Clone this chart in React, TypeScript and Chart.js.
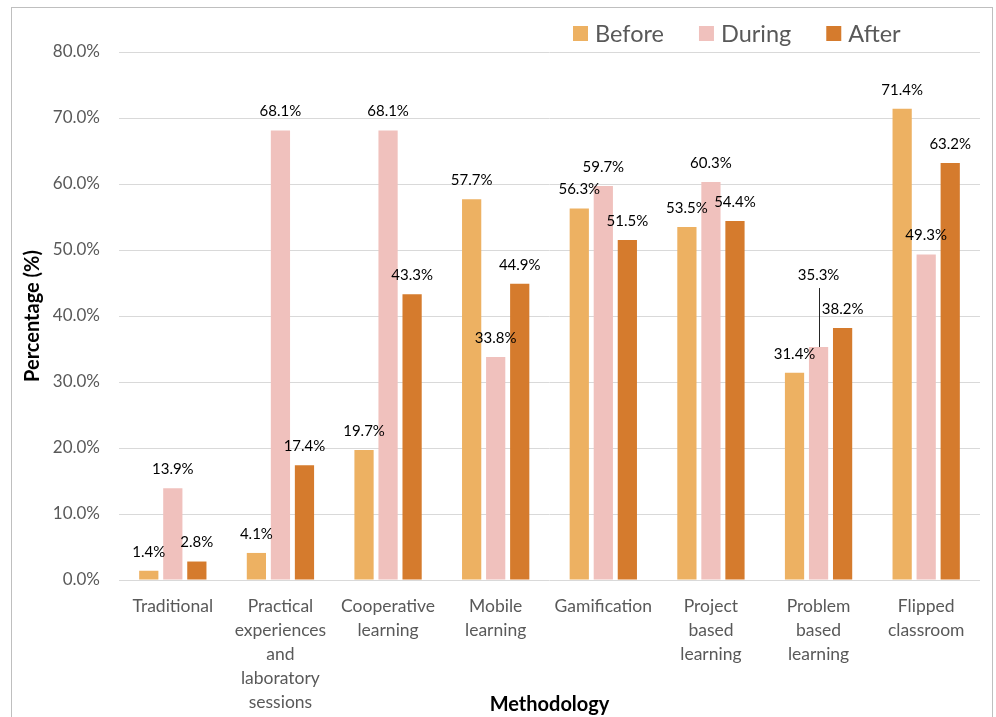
import React, { useEffect, useRef } from "react";
import { Chart, registerables } from "chart.js";

Chart.register(...registerables);

const categories: string[][] = [
  ["Traditional"],
  ["Practical", "experiences", "and", "laboratory", "sessions"],
  ["Cooperative", "learning"],
  ["Mobile", "learning"],
  ["Gamification"],
  ["Project", "based", "learning"],
  ["Problem", "based", "learning"],
  ["Flipped", "classroom"],
];

const seriesNames = ["Before", "During", "After"];
const beforeValues = [1.4, 4.1, 19.7, 57.7, 56.3, 53.5, 31.4, 71.4];
const duringValues = [13.9, 68.1, 68.1, 33.8, 59.7, 60.3, 35.3, 49.3];
const afterValues = [2.8, 17.4, 43.3, 44.9, 51.5, 54.4, 38.2, 63.2];
const seriesColors = ["#EDB162", "#F0C1BD", "#D57B2D"];

const yTickMax = 80;
const yTickStep = 10;

const FONT = "Lato, 'Open Sans', sans-serif";

const dataLabelPlugin = {
  id: "dataLabels",
  afterDatasetsDraw(chart: any) {
    const ctx = chart.ctx;
    ctx.save();
    ctx.font = `15px ${FONT}`;
    ctx.fillStyle = "#000000";
    ctx.textAlign = "center";
    ctx.textBaseline = "middle";
    chart.data.datasets.forEach((ds: any, di: number) => {
      const meta = chart.getDatasetMeta(di);
      meta.data.forEach((bar: any, i: number) => {
        const v = ds.data[i];
        const text = v.toFixed(1) + "%";
        // The "During" label of Problem based learning was moved up with a leader line
        const lifted = di === 1 && i === 6;
        const ly = bar.y - 19 - (lifted ? 53 : 0);
        ctx.fillText(text, bar.x, ly);
        if (lifted) {
          ctx.strokeStyle = "#262626";
          ctx.lineWidth = 1;
          ctx.beginPath();
          ctx.moveTo(Math.round(bar.x) + 0.5, ly + 13);
          ctx.lineTo(Math.round(bar.x) + 0.5, bar.y);
          ctx.stroke();
        }
      });
    });
    ctx.restore();
  },
};

const legendPlugin = {
  id: "customLegend",
  afterDraw(chart: any) {
    const ctx = chart.ctx;
    const area = chart.chartArea;
    ctx.save();
    ctx.font = `23.5px ${FONT}`;
    ctx.textBaseline = "middle";
    ctx.textAlign = "left";
    let x = area.left + 454;
    const yc = 33;
    chart.data.datasets.forEach((ds: any) => {
      ctx.fillStyle = ds.backgroundColor;
      ctx.fillRect(x, yc - 7, 15, 15);
      x += 22;
      ctx.fillStyle = "#595959";
      ctx.fillText(ds.label, x, yc + 1);
      x += ctx.measureText(ds.label).width + 35;
    });
    ctx.restore();
  },
};

export default function App() {
  const canvasRef = useRef<HTMLCanvasElement | null>(null);

  useEffect(() => {
    if (!canvasRef.current) return;
    const values = [beforeValues, duringValues, afterValues];
    const chart = new Chart(canvasRef.current, {
      type: "bar",
      data: {
        labels: categories,
        datasets: seriesNames.map((name, k) => ({
          label: name,
          data: values[k],
          backgroundColor: seriesColors[k],
          categoryPercentage: 0.67,
          barPercentage: 0.8,
        })),
      },
      options: {
        responsive: false,
        animation: false,
        layout: { padding: { left: 17, right: 16, top: 52, bottom: 0 } },
        plugins: {
          legend: { display: false },
          tooltip: { enabled: false },
        },
        scales: {
          x: {
            grid: { display: false, drawTicks: false },
            border: { display: false },
            ticks: {
              color: "#595959",
              font: { family: FONT, size: 17.5, lineHeight: 24 / 17.5 },
              padding: 14,
              maxRotation: 0,
              autoSkip: false,
            },
            title: {
              display: true,
              text: "Methodology",
              color: "#000000",
              font: { family: FONT, size: 20, weight: "bold", lineHeight: 1.2 },
              padding: { top: 0, bottom: 0 },
            },
            afterFit: (s: any) => {
              s.height = 137;
            },
          },
          y: {
            min: 0,
            max: yTickMax,
            grid: { color: "#D9D9D9", drawTicks: false, lineWidth: 1 },
            border: { display: false },
            ticks: {
              stepSize: yTickStep,
              color: "#595959",
              font: { family: FONT, size: 17 },
              padding: 19,
              callback: (v: any) => Number(v).toFixed(1) + "%",
            },
            title: {
              display: true,
              text: "Percentage (%)",
              color: "#000000",
              font: { family: FONT, size: 20, weight: "bold", lineHeight: 1.2 },
              padding: { top: 4, bottom: 4 },
            },
            afterFit: (s: any) => {
              s.width = 102;
            },
          },
        },
      },
      plugins: [dataLabelPlugin, legendPlugin],
    });
    return () => chart.destroy();
  }, []);

  return (
    <div
      style={{
        position: "fixed",
        left: 0,
        top: 0,
        width: 996,
        height: 717,
        overflow: "hidden",
        background: "#ffffff",
      }}
    >
      <div
        style={{
          position: "absolute",
          left: 11,
          top: 7,
          width: 982,
          height: 730,
          border: "1px solid #BFBFBF",
          boxSizing: "border-box",
        }}
      />
      <canvas
        ref={canvasRef}
        width={996}
        height={717}
        style={{ position: "absolute", left: 0, top: 0, width: 996, height: 717 }}
      />
    </div>
  );
}
